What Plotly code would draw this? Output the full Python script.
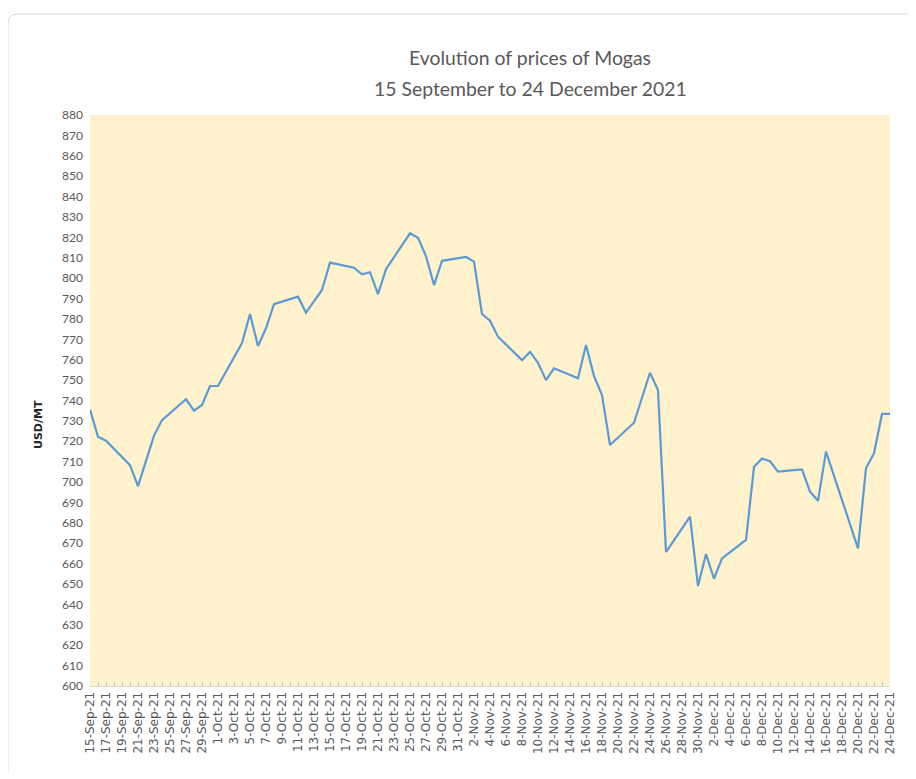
import plotly.graph_objects as go

# Data (trading days)
dates = [
    "2021-09-15", "2021-09-16", "2021-09-17", "2021-09-20", "2021-09-21",
    "2021-09-23", "2021-09-24", "2021-09-27", "2021-09-28", "2021-09-29",
    "2021-09-30", "2021-10-01", "2021-10-04", "2021-10-05", "2021-10-06",
    "2021-10-07", "2021-10-08", "2021-10-11", "2021-10-12", "2021-10-14",
    "2021-10-15", "2021-10-18", "2021-10-19", "2021-10-20", "2021-10-21",
    "2021-10-22", "2021-10-25", "2021-10-26", "2021-10-27", "2021-10-28",
    "2021-10-29", "2021-11-01", "2021-11-02", "2021-11-03", "2021-11-04",
    "2021-11-05", "2021-11-08", "2021-11-09", "2021-11-10", "2021-11-11",
    "2021-11-12", "2021-11-15", "2021-11-16", "2021-11-17", "2021-11-18",
    "2021-11-19", "2021-11-22", "2021-11-24", "2021-11-25", "2021-11-26",
    "2021-11-29", "2021-11-30", "2021-12-01", "2021-12-02", "2021-12-03",
    "2021-12-06", "2021-12-07", "2021-12-08", "2021-12-09", "2021-12-10",
    "2021-12-13", "2021-12-14", "2021-12-15", "2021-12-16", "2021-12-20",
    "2021-12-21", "2021-12-22", "2021-12-23", "2021-12-24",
]
prices = [
    735.5, 722.2, 720.3, 708.3, 698.0,
    722.8, 730.4, 740.7, 735.0, 737.8,
    747.1, 747.1, 768.2, 782.4, 766.7,
    775.4, 787.2, 790.9, 783.1, 794.2,
    807.6, 805.1, 801.9, 802.9, 792.2,
    804.4, 822.0, 819.8, 810.8, 796.6,
    808.5, 810.4, 808.1, 782.4, 779.1,
    771.3, 759.8, 763.8, 758.5, 750.0,
    755.8, 750.9, 767.2, 752.0, 742.7,
    718.2, 729.1, 753.6, 745.1, 665.7,
    683.0, 649.0, 664.7, 652.6, 662.6,
    671.6, 707.5, 711.5, 710.2, 705.1,
    706.2, 695.3, 690.8, 714.9, 667.5,
    706.9, 714.1, 733.4, 733.4,
]

title_line1 = "Evolution of prices of Mogas"
title_line2 = "15 September to 24 December 2021"
y_title = "USD/MT"

fig = go.Figure()
fig.add_trace(go.Scatter(
    x=dates, y=prices, mode="lines",
    line=dict(color="#5B9BD5", width=2.2),
    showlegend=False,
))

OFF = 8  # page body margin
W, H = 900, 763
L, T = 90 - OFF, 115 - OFF
R = W - (890 - OFF)
B = H - (686 - OFF)
pw, ph = W - L - R, H - T - B

def px_x(x):
    return (x - OFF - L) / pw

def px_y(y):
    return (H - B - (y - OFF)) / ph

# card border (rounded top-left corner)
x0, y0 = px_x(8), px_y(14)
x1, yb = px_x(940), px_y(800)
rx, ry = 10 / pw, 10 / ph
path = (f"M {x0},{yb} L {x0},{y0 - ry} Q {x0},{y0} {x0 + rx},{y0} L {x1},{y0}")

fig.update_layout(
    width=W, height=H,
    margin=dict(l=L, r=R, t=T, b=B),
    paper_bgcolor="white",
    plot_bgcolor="#FFF2CC",
    font=dict(family="Lato, DejaVu Sans, sans-serif", color="#595959"),
    shapes=[dict(type="path", path=path, xref="paper", yref="paper",
                 line=dict(color="#D9D9D9", width=1), layer="below")],
    annotations=[
        dict(text=title_line1, xref="paper", yref="paper",
             x=px_x(530), y=px_y(58), xanchor="center", yanchor="middle",
             showarrow=False, font=dict(size=19.4, color="#595959")),
        dict(text=title_line2, xref="paper", yref="paper",
             x=px_x(530), y=px_y(88), xanchor="center", yanchor="middle",
             showarrow=False, font=dict(size=19.4, color="#595959")),
        dict(text="<b>" + y_title + "</b>", xref="paper", yref="paper",
             x=px_x(38), y=px_y(425), xanchor="center", yanchor="middle",
             textangle=-90, showarrow=False,
             font=dict(size=11, color="#262626", family="DejaVu Sans, sans-serif")),
    ],
)

fig.update_xaxes(
    type="date",
    range=["2021-09-15", "2021-12-24"],
    tick0="2021-09-15", dtick=2 * 86400000,
    tickformat="%-d-%b-%y",
    tickangle=-90,
    tickfont=dict(size=12, family="DejaVu Sans, sans-serif", color="#595959"),
    ticks="inside", ticklen=4, tickcolor="#BFBFBF",
    minor=dict(dtick=86400000, ticks="inside", ticklen=4, tickcolor="#BFBFBF"),
    showgrid=False, zeroline=False,
    showline=True, linecolor="#D9D9D9", linewidth=1,
)
fig.update_yaxes(
    range=[600, 880], dtick=10, tick0=600,
    tickfont=dict(size=12, color="#595959"),
    showgrid=False, zeroline=False, showline=False,
    ticks="", ticklabelstandoff=6,
)

fig.write_html("out.html")
